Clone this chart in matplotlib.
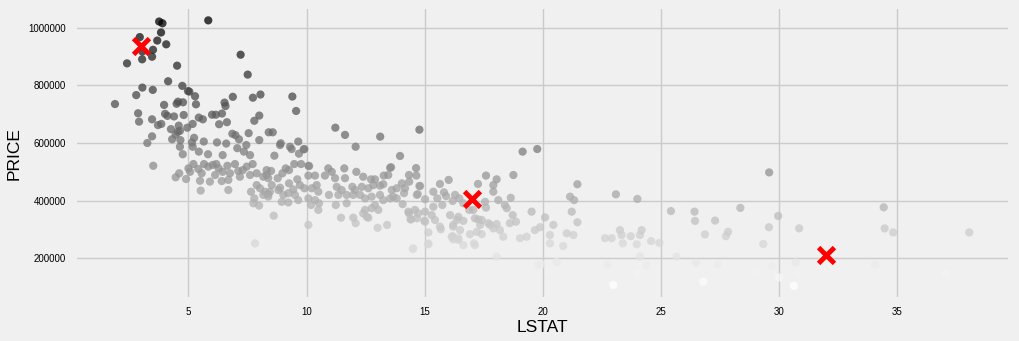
import matplotlib
matplotlib.use('Agg')
import matplotlib.pyplot as plt
import numpy as np

plt.style.use('fivethirtyeight')
plt.rcParams['font.family'] = ['Liberation Sans', 'DejaVu Sans']

# LSTAT / PRICE (price in thousands)
lstat = [
    3.76, 3.90, 5.84, 3.84, 2.94, 3.68, 4.06, 3.50, 3.05, 3.46,
    3.04, 2.40, 4.52, 7.21, 7.51, 4.14, 3.05, 3.49, 2.79, 4.74,
    4.98, 5.04, 5.28, 1.89, 3.97, 4.56, 4.50, 4.77, 5.32, 6.88,
    6.53, 6.57, 7.73, 8.05, 2.87, 2.91, 4.01, 4.11, 4.39, 4.80,
    3.46, 3.85, 3.71, 5.44, 5.61, 6.00, 6.16, 6.42, 8.00, 6.63,
    6.30, 7.79, 5.18, 4.59, 4.26, 4.55, 4.46, 4.64, 4.95, 3.46,
    3.26, 4.31, 4.66, 5.24, 5.15, 5.65, 6.21, 6.60, 6.86, 6.99,
    7.14, 7.55, 8.00, 8.40, 7.45, 7.07, 4.64, 5.18,
    4.76, 5.44, 5.83, 6.45, 7.35, 7.61, 3.51, 4.46, 4.61, 4.90,
    5.00, 5.21, 5.42, 5.56, 5.66, 5.84, 6.03, 6.18, 6.28, 6.45,
    6.65, 6.76, 6.97, 7.11, 7.30, 7.47, 7.72, 7.61, 7.89, 8.17,
    8.31, 5.49, 5.91, 6.41, 6.69, 5.52, 6.69, 7.65, 7.79, 7.75,
    7.99, 7.89, 8.03, 8.24, 8.38, 7.82, 5.07, 6.13, 7.18, 8.17,
    8.38,
    8.88, 9.30, 9.37, 9.91, 12.08, 8.64, 9.48, 9.77, 9.12, 9.26,
    8.50, 8.31, 8.98, 8.78, 9.61, 10.08, 10.08, 10.36, 10.78, 10.92,
    11.07, 11.21, 11.60, 11.63, 12.11, 12.40, 12.73, 12.90, 13.27, 13.54,
    13.46, 8.53, 8.88, 9.26, 9.44, 9.72, 9.91, 10.22, 10.43, 10.50,
    11.28, 11.49, 11.94, 12.05, 12.34, 12.62, 12.83, 13.11, 13.25, 13.61,
    8.45, 8.81, 9.02, 8.38, 9.23, 9.51, 9.65, 10.08, 10.36, 10.19,
    10.53, 9.23, 10.95, 11.35, 11.24, 11.70, 11.70, 11.98, 12.27, 12.48,
    12.76, 13.11, 12.90, 13.25, 13.54, 12.48, 12.76, 13.04, 12.40, 12.62,
    8.61, 10.08, 11.46, 11.98, 12.08, 13.01, 13.41, 10.50, 8.95,
    9.40, 9.56, 8.57, 8.91, 9.65, 9.68, 9.88, 11.22, 11.63, 13.12,
    14.78, 13.96, 10.11, 13.58, 14.64, 14.34, 14.65, 14.81, 14.04, 15.37,
    15.65, 14.67, 15.02, 15.37, 14.34, 14.59, 15.02, 14.42, 14.99, 15.16,
    15.16, 14.50, 12.55,
    19.15, 19.77, 17.60, 18.05, 18.76, 16.02, 17.26, 17.91, 17.91, 15.82,
    15.91, 16.29, 16.47, 15.54, 15.75, 16.19, 16.64, 16.89, 17.56, 17.60,
    18.12, 18.65, 18.40, 18.48, 18.73, 18.87, 19.53, 20.10, 20.45, 19.89,
    19.67, 21.47, 21.16, 21.33, 21.23, 21.47, 23.10, 21.02, 21.30, 22.64,
    22.92, 23.27, 23.34, 20.31, 19.04, 19.32, 17.06, 17.27, 17.70, 18.05,
    18.19, 18.33, 16.43, 16.64, 16.21, 15.69, 16.19, 16.43, 16.92, 17.42,
    17.13, 20.31, 20.87, 18.05, 19.77, 19.96, 20.59, 20.31, 22.75, 22.99,
    14.17, 14.13, 13.82, 14.35, 14.78, 14.71, 13.67, 14.07, 13.82, 14.31,
    14.73, 14.41, 14.67, 15.02, 15.30, 15.44, 15.65, 16.08, 16.36, 16.21,
    16.50, 16.15, 16.43, 17.21, 17.35, 17.13, 17.42, 17.77, 17.91, 18.61,
    17.09, 16.21, 16.64, 14.52, 15.16,
    29.59, 24.01, 25.43, 26.43, 26.45, 27.30, 28.37, 29.97, 29.58, 30.86,
    26.87, 27.76, 27.85, 23.73, 24.12, 24.19, 24.59, 24.94, 23.39, 23.98,
    29.34, 24.12, 24.40, 24.00, 25.67, 25.81, 26.49, 27.41, 26.80, 29.09,
    29.72, 30.02, 30.64, 30.71, 30.86, 34.44, 34.48, 34.84, 38.06, 32.05,
    34.08, 37.06,
]
price_k = [
    1021, 1015, 1025, 983, 967, 955, 942, 923, 917, 899,
    890, 876, 868, 906, 837, 814, 792, 784, 766, 798,
    780, 778, 762, 735, 732, 743, 736, 741, 734, 760,
    740, 728, 757, 768, 703, 674, 701, 694, 692, 697,
    682, 666, 662, 688, 682, 698, 698, 702, 695, 672,
    665, 677, 666, 660, 648, 639, 629, 642, 653, 623,
    600, 613, 610, 618, 602, 605, 602, 598, 632, 627,
    613, 634, 610, 637, 593, 582, 587, 587,
    561, 570, 561, 558, 570, 558, 521, 481, 495, 475,
    512, 527, 510, 495, 527, 518, 524, 527, 512, 500,
    521, 495, 527, 503, 506, 518, 527, 489, 495, 483,
    506, 469, 466, 468, 472, 435, 437, 431, 408, 391,
    383, 454, 443, 431, 478, 252, 500, 489, 483, 420,
    422,
    593, 587, 579, 579, 587, 556, 527, 527, 512, 506,
    503, 489, 495, 478, 474, 521, 487, 487, 487, 512,
    500, 478, 512, 478, 500, 483, 474, 474, 487, 514,
    489, 454, 445, 460, 439, 454, 443, 443, 454, 431,
    448, 437, 448, 437, 448, 443, 454, 452, 457, 437,
    431, 437, 420, 414, 426, 420, 402, 408, 402, 385,
    391, 394, 420, 420, 385, 420, 391, 420, 420, 408,
    414, 420, 385, 402, 408, 368, 374, 368, 356, 341,
    348, 316, 341, 341, 322, 306, 316, 368, 396,
    761, 711, 637, 599, 605, 563, 578, 653, 628, 622,
    646, 555, 520, 516, 513, 489, 487, 451, 460, 431,
    458, 420, 405, 379, 356, 368, 362, 336, 331, 290,
    249, 232, 344,
    570, 579, 487, 474, 489, 472, 458, 454, 431, 429,
    416, 420, 408, 408, 385, 399, 391, 368, 396, 376,
    402, 410, 385, 374, 350, 327, 362, 342, 316, 308,
    298, 457, 414, 402, 362, 325, 422, 287, 281, 270,
    270, 298, 281, 281, 270, 275, 368, 335, 322, 319,
    298, 275, 344, 330, 310, 301, 277, 270, 284, 284,
    246, 252, 243, 206, 177, 180, 188, 152, 178, 108,
    443, 426, 443, 466, 451, 423, 414, 388, 408, 362,
    356, 335, 339, 327, 350, 333, 310, 350, 333, 316,
    298, 275, 264, 292, 316, 339, 333, 316, 304, 322,
    252, 266, 246, 235, 252,
    498, 406, 364, 362, 330, 331, 375, 347, 308, 304,
    283, 277, 292, 277, 281, 298, 260, 254, 252, 249,
    250, 206, 177, 148, 206, 160, 185, 179, 119, 152,
    171, 134, 105, 186, 152, 377, 304, 290, 290, 157,
    178, 148,
]
price = np.array(price_k) * 1000

# client predictions (red crosses)
client_lstat = [17, 32, 3]
client_price = [404700, 210500, 937400]

fig = plt.figure(figsize=(10.19, 3.41), dpi=100)
ax = fig.add_axes([0.0732, 0.123, 0.9178, 0.856])

ax.scatter(lstat, price, c=price, cmap='gray_r', alpha=0.75, s=35, linewidths=0)
ax.scatter(client_lstat, client_price, marker='x', color='red', s=130, linewidths=3.5)

ax.set_xlim(0.18, 39.78)
ax.set_ylim(59000, 1070800)
ax.ticklabel_format(style='plain', axis='y')
ax.tick_params(labelsize=7, length=0, pad=6)
ax.set_xlabel('LSTAT', fontsize=12.5, labelpad=2)
ax.set_ylabel('PRICE', fontsize=12.5, labelpad=5)

fig.savefig('out.png', dpi=100, facecolor=fig.get_facecolor())
